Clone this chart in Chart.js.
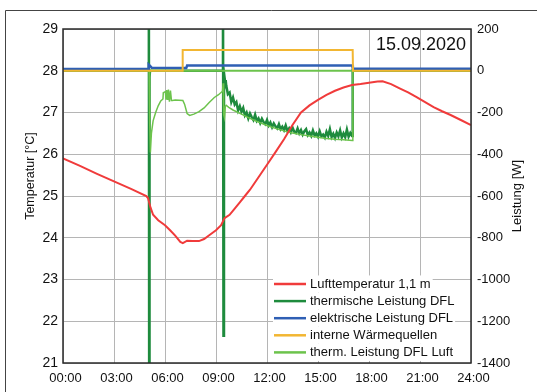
<!DOCTYPE html>
<html>
<head>
<meta charset="utf-8">
<script src="https://cdn.jsdelivr.net/npm/chart.js@4.4.0/dist/chart.umd.min.js"></script>
<style>
html, body { margin: 0; padding: 0; background: #fff; }
</style>
</head>
<body>
<canvas id="c" width="537" height="392"></canvas>
<script>
// Lufttemperatur 1,1 m [°C] (linke Achse)
const tempTime  = [0, 1, 2, 3, 4, 4.9, 5.0, 5.15, 5.3, 5.6, 6.0, 6.3, 6.6, 6.9, 7.05, 7.3, 7.6, 8.0, 8.3, 8.6, 9.0, 9.3, 9.5, 9.8, 10.1, 10.4, 10.7, 11.0, 11.5, 12.0, 12.5, 13.0, 13.5, 14.0, 14.5, 15.0, 15.5, 16.0, 16.5, 17.0, 17.5, 18.0, 18.5, 18.8, 19.3, 19.8, 20.3, 20.8, 21.3, 21.8, 22.3, 22.8, 23.4, 24];
const tempValue = [25.9, 25.72, 25.53, 25.35, 25.17, 25.0, 24.95, 24.72, 24.55, 24.42, 24.3, 24.18, 24.05, 23.9, 23.87, 23.93, 23.92, 23.92, 23.97, 24.06, 24.18, 24.3, 24.47, 24.55, 24.7, 24.85, 25.0, 25.15, 25.45, 25.75, 26.05, 26.36, 26.7, 27.0, 27.17, 27.3, 27.42, 27.52, 27.6, 27.66, 27.68, 27.71, 27.74, 27.75, 27.68, 27.58, 27.48, 27.37, 27.25, 27.13, 27.03, 26.94, 26.82, 26.7];

// thermische Leistung DFL [W]
const thermTime  = [0, 5.03, 5.05, 5.07, 5.09, 5.12, 9.39, 9.41, 9.44, 9.47, 9.5, 9.53, 9.56, 9.58,
    9.6, 9.7, 9.8, 9.9, 10.0, 10.1, 10.2, 10.3, 10.4, 10.5, 10.6, 10.7, 10.8, 10.9,
    11.0, 11.1, 11.2, 11.3, 11.4, 11.5, 11.6, 11.7, 11.8, 11.9, 12.0, 12.1, 12.2, 12.3, 12.4, 12.5, 12.6, 12.7, 12.8, 12.9,
    13.0, 13.1, 13.2, 13.3, 13.4, 13.5, 13.6, 13.7, 13.8, 13.9, 14.0, 14.1, 14.2, 14.3, 14.4, 14.5, 14.6, 14.7, 14.8, 14.9,
    15.0, 15.1, 15.2, 15.3, 15.4, 15.5, 15.6, 15.7, 15.8, 15.9, 16.0, 16.1, 16.2, 16.3, 16.4, 16.5, 16.6, 16.7, 16.8, 16.9,
    17.0, 17.04, 24];
const thermValue = [0, 0, 600, -1700, -30, 0, 0, 600, -1270, -60, -30, -50, -85, -45,
    -70, -112, -104, -150, -128, -162, -150, -190, -170, -196, -178, -214, -200, -228,
    -205, -222, -236, -210, -240, -228, -250, -230, -246, -256, -236, -262, -248, -270, -252, -266, -276, -256, -280, -268,
    -284, -262, -288, -276, -294, -272, -292, -298, -276, -300, -284, -306, -290, -280, -308, -296, -312, -286, -310, -300,
    -316, -290, -314, -306, -320, -292, -312, -280, -318, -302, -322, -296, -314, -286, -320, -300, -318, -282, -316, -298,
    -312, 0, 0];

// elektrische Leistung DFL [W]
const elecTime  = [0, 5.02, 5.04, 5.12, 5.22, 7.25, 7.3, 17.02, 17.05, 24];
const elecValue = [8, 8, 30, 24, 14, 13, 25, 25, 9, 9];

// interne Wärmequellen [W]
const quelleTime  = [0, 7.02, 7.04, 17.04, 17.06, 24];
const quelleValue = [0, 0, 100, 100, 0, 0];

// therm. Leistung DFL Luft [W]
const luftTime  = [0, 5.06, 5.1, 5.14, 5.2, 5.3, 5.45, 5.6, 5.75, 5.88, 5.9, 6.02, 6.06, 6.1, 6.16, 6.2, 6.26, 6.32, 6.38, 6.44, 6.6, 7.05, 7.15, 7.3, 7.45, 7.7, 8.0, 8.3, 8.6, 8.9, 9.15, 9.38, 9.42, 9.45, 9.5, 9.55, 9.6, 9.75, 10.0, 10.5, 11.0, 11.5, 12.0, 12.5, 13.0, 13.5, 14.0, 14.5, 15.0, 15.5, 16.0, 16.5, 17.02, 17.05, 24];
const luftValue = [0, 0, -250, -392, -300, -240, -200, -168, -145, -135, -105, -100, -135, -92, -140, -90, -148, -95, -142, -142, -140, -142, -160, -205, -214, -208, -196, -178, -152, -128, -115, -98, -60, -210, -225, -170, -165, -175, -188, -208, -228, -246, -262, -276, -288, -298, -306, -313, -319, -324, -328, -331, -334, 0, 0];

// zweite hellgrüne Linie bei 0 W während des Betriebs
const nullTime  = [5.06, 17.05];
const nullValue = [0, 0];

const xTicks = [0, 24, 3];      // min, max, Schritt [h]
const tempTicks = [21, 29, 1];
const powerTicks = [-1400, 200, 200];

const FONT = '"Liberation Sans", Arial, sans-serif';
const RED = '#f03b3b', DKGREEN = '#1e8b3d', BLUE = '#2f5fb4', YELLOW = '#f2b632', LTGREEN = '#6cc34c';

const legendItems = [
    ['Lufttemperatur 1,1 m', RED],
    ['thermische Leistung DFL', DKGREEN],
    ['elektrische Leistung DFL', BLUE],
    ['interne Wärmequellen', YELLOW],
    ['therm. Leistung DFL Luft', LTGREEN]
];

const pts = (t, v) => t.map((x, i) => ({ x: x, y: v[i] }));

const line = (label, t, v, color, width, axis, order) => ({
    label: label,
    data: pts(t, v),
    borderColor: color,
    backgroundColor: color,
    borderWidth: width,
    pointRadius: 0,
    tension: 0,
    fill: false,
    yAxisID: axis,
    order: order
});

const decor = {
    id: 'decor',
    afterDraw(chart) {
        const ctx = chart.ctx;
        const a = chart.chartArea;
        ctx.save();

        // Legende unten rechts im Diagramm
        ctx.font = '13px ' + FONT;
        ctx.textBaseline = 'middle';
        ctx.textAlign = 'left';
        const lx = a.left + 211, rowH = 17.1;
        legendItems.forEach((it, i) => {
            const cy = a.bottom - 79 + i * rowH;
            const w = ctx.measureText(it[0]).width;
            ctx.fillStyle = '#fff';
            ctx.fillRect(lx - 1, cy - rowH / 2, 39 + w, rowH);
            ctx.strokeStyle = it[1];
            ctx.lineWidth = 2.5;
            ctx.beginPath();
            ctx.moveTo(lx, cy);
            ctx.lineTo(lx + 32, cy);
            ctx.stroke();
            ctx.fillStyle = '#111';
            ctx.fillText(it[0], lx + 36, cy + 0.5);
        });

        // Rahmen des Plotbereichs
        ctx.strokeStyle = '#2a2a2a';
        ctx.lineWidth = 1.5;
        ctx.strokeRect(a.left, a.top, a.right - a.left, a.bottom - a.top);

        // äußerer Rahmen
        ctx.strokeStyle = '#444';
        ctx.lineWidth = 1;
        ctx.beginPath();
        ctx.moveTo(5.5, chart.height);
        ctx.lineTo(5.5, 10.5);
        ctx.lineTo(chart.width, 10.5);
        ctx.stroke();

        // Datum
        ctx.fillStyle = '#111';
        ctx.font = '18px ' + FONT;
        ctx.textAlign = 'right';
        ctx.fillText('15.09.2020', a.right - 5, a.top + 16);

        // Achsentitel
        ctx.textAlign = 'center';
        ctx.font = '12.5px ' + FONT;
        ctx.save();
        ctx.translate(31, 176);
        ctx.rotate(-Math.PI / 2);
        ctx.fillText('Temperatur [°C]', 0, 0);
        ctx.restore();
        ctx.font = '13px ' + FONT;
        ctx.save();
        ctx.translate(517, (a.top + a.bottom) / 2);
        ctx.rotate(-Math.PI / 2);
        ctx.fillText('Leistung [W]', 0, 0);
        ctx.restore();

        ctx.restore();
    }
};

new Chart(document.getElementById('c'), {
    type: 'line',
    data: {
        datasets: [
            line('Lufttemperatur 1,1 m', tempTime, tempValue, RED, 2, 'y', 0),
            line('thermische Leistung DFL', thermTime, thermValue, DKGREEN, 2.5, 'y1', 6),
            line('elektrische Leistung DFL', elecTime, elecValue, BLUE, 2.5, 'y1', 2),
            line('interne Wärmequellen', quelleTime, quelleValue, YELLOW, 2, 'y1', 1),
            line('therm. Leistung DFL Luft', luftTime, luftValue, LTGREEN, 1.5, 'y1', 4),
            line('0-Linie', nullTime, nullValue, LTGREEN, 1.8, 'y1', 3)
        ]
    },
    options: {
        responsive: false,
        devicePixelRatio: 1,
        animation: false,
        layout: { padding: { top: 29, left: 0, right: 0, bottom: 0 } },
        plugins: { legend: { display: false }, tooltip: { enabled: false } },
        scales: {
            x: {
                type: 'linear',
                min: xTicks[0], max: xTicks[1],
                grid: { color: '#b5b5b5', lineWidth: 1, drawTicks: false },
                border: { display: false },
                ticks: {
                    stepSize: xTicks[2],
                    padding: 8,
                    labelOffset: 2.5,
                    color: '#111',
                    font: { family: FONT, size: 13 },
                    callback: v => String(v).padStart(2, '0') + ':00'
                },
                afterFit: s => { s.height = 29; }
            },
            y: {
                position: 'left',
                min: tempTicks[0], max: tempTicks[1],
                grid: { color: '#b5b5b5', lineWidth: 1, drawTicks: false },
                border: { display: false },
                ticks: { stepSize: tempTicks[2], padding: 5, color: '#111', font: { family: FONT, size: 14 }, callback: v => String(v) },
                afterFit: s => { s.width = 63; }
            },
            y1: {
                position: 'right',
                min: powerTicks[0], max: powerTicks[1],
                grid: { display: false, drawTicks: false },
                border: { display: false },
                ticks: { stepSize: powerTicks[2], padding: 6, color: '#111', font: { family: FONT, size: 13 }, callback: v => String(v) },
                afterFit: s => { s.width = 66; }
            }
        }
    },
    plugins: [decor]
});
</script>
</body>
</html>
